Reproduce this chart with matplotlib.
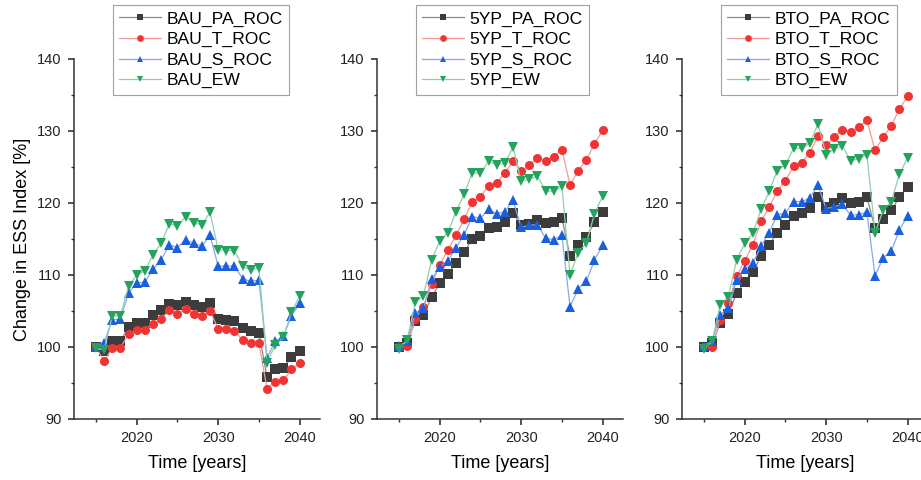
import matplotlib
matplotlib.use("Agg")
import matplotlib.pyplot as plt
import numpy as np
from matplotlib.ticker import MultipleLocator

plt.rcParams['font.family'] = ['Liberation Sans', 'DejaVu Sans']

years = np.arange(2015, 2041)

# BAU scenario
bau_pa = [100, 99.5, 100.8, 100.8, 102.8, 103.4, 103.4, 104.4, 105.1, 106.0, 105.8, 106.2, 105.8,
          105.6, 106.1, 103.9, 103.8, 103.6, 102.6, 102.2, 102.0, 95.8, 96.9, 97.1, 98.6, 99.5]
bau_t = [100, 98.0, 99.9, 99.9, 101.8, 102.4, 102.4, 103.2, 103.9, 105.1, 104.6, 105.3, 104.6,
         104.3, 105.0, 102.5, 102.5, 102.2, 101.0, 100.6, 100.5, 94.2, 95.1, 95.4, 96.9, 97.8]
bau_s = [100, 100.6, 103.8, 103.9, 107.5, 108.9, 109.0, 110.8, 112.1, 114.2, 113.8, 114.9, 114.4,
         114.0, 115.5, 111.2, 111.3, 111.2, 109.5, 109.1, 109.3, 98.5, 100.8, 101.5, 104.3, 106.1]
bau_ew = [99.8, 99.6, 104.3, 104.3, 108.5, 110.0, 110.6, 112.8, 114.4, 117.1, 116.8, 118.1, 117.2,
          117.0, 118.7, 113.5, 113.4, 113.4, 111.2, 110.7, 111.0, 97.8, 100.3, 101.4, 104.8, 107.1]

# 5YP scenario
fyp_pa = [100, 100.6, 103.6, 104.4, 106.9, 108.9, 110.1, 111.7, 113.2, 115.0, 115.4, 116.5, 116.6,
          117.3, 118.6, 116.9, 117.1, 117.7, 117.2, 117.3, 117.9, 112.6, 114.2, 115.3, 117.3, 118.8]
fyp_t = [100, 100.2, 103.9, 105.6, 108.7, 111.4, 113.5, 115.5, 117.8, 120.1, 120.9, 122.4, 122.8,
         124.2, 125.8, 124.4, 125.3, 126.2, 125.9, 126.4, 127.4, 122.5, 124.5, 126.0, 128.2, 130.1]
fyp_s = [100.1, 100.8, 104.7, 105.4, 109.4, 111.1, 111.9, 113.8, 115.6, 118.1, 117.9, 119.1, 118.5,
         118.8, 120.4, 116.6, 116.9, 117.0, 115.1, 114.9, 115.5, 105.6, 108.1, 109.1, 112.1, 114.1]
fyp_ew = [99.7, 101.0, 106.2, 107.1, 112.1, 114.7, 115.9, 118.8, 121.2, 124.2, 124.1, 125.8, 125.3,
          125.5, 127.8, 123.0, 123.3, 123.7, 121.7, 121.6, 122.3, 110.0, 113.1, 114.4, 118.5, 121.0]

# BTO scenario
bto_pa = [100, 100.5, 103.3, 104.6, 107.5, 109.0, 110.4, 112.6, 114.2, 115.9, 116.9, 118.2, 118.6,
          119.3, 120.9, 119.5, 120.0, 120.7, 120.0, 120.2, 120.8, 116.5, 117.8, 119.0, 120.8, 122.2]
bto_t = [100, 100.0, 103.8, 106.1, 109.8, 112.0, 114.2, 117.5, 119.4, 121.7, 123.1, 125.1, 125.6,
         127.0, 129.3, 128.0, 129.1, 130.2, 129.9, 130.6, 131.5, 127.3, 129.2, 130.7, 133.1, 134.8]
bto_s = [100.1, 100.9, 104.5, 105.4, 109.3, 110.8, 111.6, 114.0, 115.9, 118.4, 118.6, 120.2, 120.2,
         120.7, 122.5, 119.2, 119.5, 119.8, 118.3, 118.4, 118.7, 109.9, 112.4, 113.3, 116.3, 118.2]
bto_ew = [99.7, 100.8, 105.9, 107.0, 112.1, 114.4, 115.8, 119.1, 121.6, 124.5, 125.3, 127.6, 127.6,
          128.3, 131.0, 126.7, 127.5, 127.9, 125.9, 126.1, 126.7, 115.9, 119.0, 120.2, 124.0, 126.3]

scenarios = ['BAU', '5YP', 'BTO']
series = [[bau_pa, bau_t, bau_s, bau_ew],
          [fyp_pa, fyp_t, fyp_s, fyp_ew],
          [bto_pa, bto_t, bto_s, bto_ew]]
suffixes = ['_PA_ROC', '_T_ROC', '_S_ROC', '_EW']

colors = ['#3c3c3c', '#f03434', '#1a5fe0', '#25a35e']
line_colors = ['#8a8a8a', '#f59a9a', '#86a9ec', '#8fd0a8']
markers = ['s', 'o', '^', 'v']

fig = plt.figure(figsize=(9.21, 4.80), dpi=100)
lefts = [74, 377, 682]

for k in range(3):
    ax = fig.add_axes([lefts[k] / 921.0, 61 / 480.0, 246 / 921.0, 360 / 480.0])
    for i in range(4):
        ax.plot(years, series[k][i], color=line_colors[i], marker=markers[i], markersize=6.5,
                markerfacecolor=colors[i], linewidth=0.9, markeredgewidth=0,
                label=scenarios[k] + suffixes[i])
    ax.set_xlim(2012.3, 2042.5)
    ax.set_ylim(90, 140)
    ax.xaxis.set_major_locator(MultipleLocator(10))
    ax.xaxis.set_minor_locator(MultipleLocator(5))
    ax.yaxis.set_major_locator(MultipleLocator(10))
    ax.yaxis.set_minor_locator(MultipleLocator(5))
    ax.spines['top'].set_visible(False)
    ax.spines['right'].set_visible(False)
    for sp in ['left', 'bottom']:
        ax.spines[sp].set_linewidth(1.1)
        ax.spines[sp].set_color('#333333')
    ax.tick_params(which='major', direction='out', length=4, width=1.1, labelsize=10.5,
                   colors='#222222', pad=5)
    ax.tick_params(which='minor', direction='out', length=2.5, width=1.0, colors='#333333')
    ax.set_xlabel('Time [years]', fontsize=13, labelpad=7)
    if k == 0:
        ax.set_ylabel('Change in ESS Index [%]', fontsize=13)
    leg = ax.legend(loc='upper left', bbox_to_anchor=(0.16, 1.15), fontsize=12.6,
                    frameon=True, fancybox=False, edgecolor='#888888', markerscale=0.75,
                    handlelength=2.4, handletextpad=0.3, borderpad=0.35, labelspacing=0.3,
                    borderaxespad=0)
    leg.get_frame().set_linewidth(0.8)

fig.savefig('out.png', dpi=100)
